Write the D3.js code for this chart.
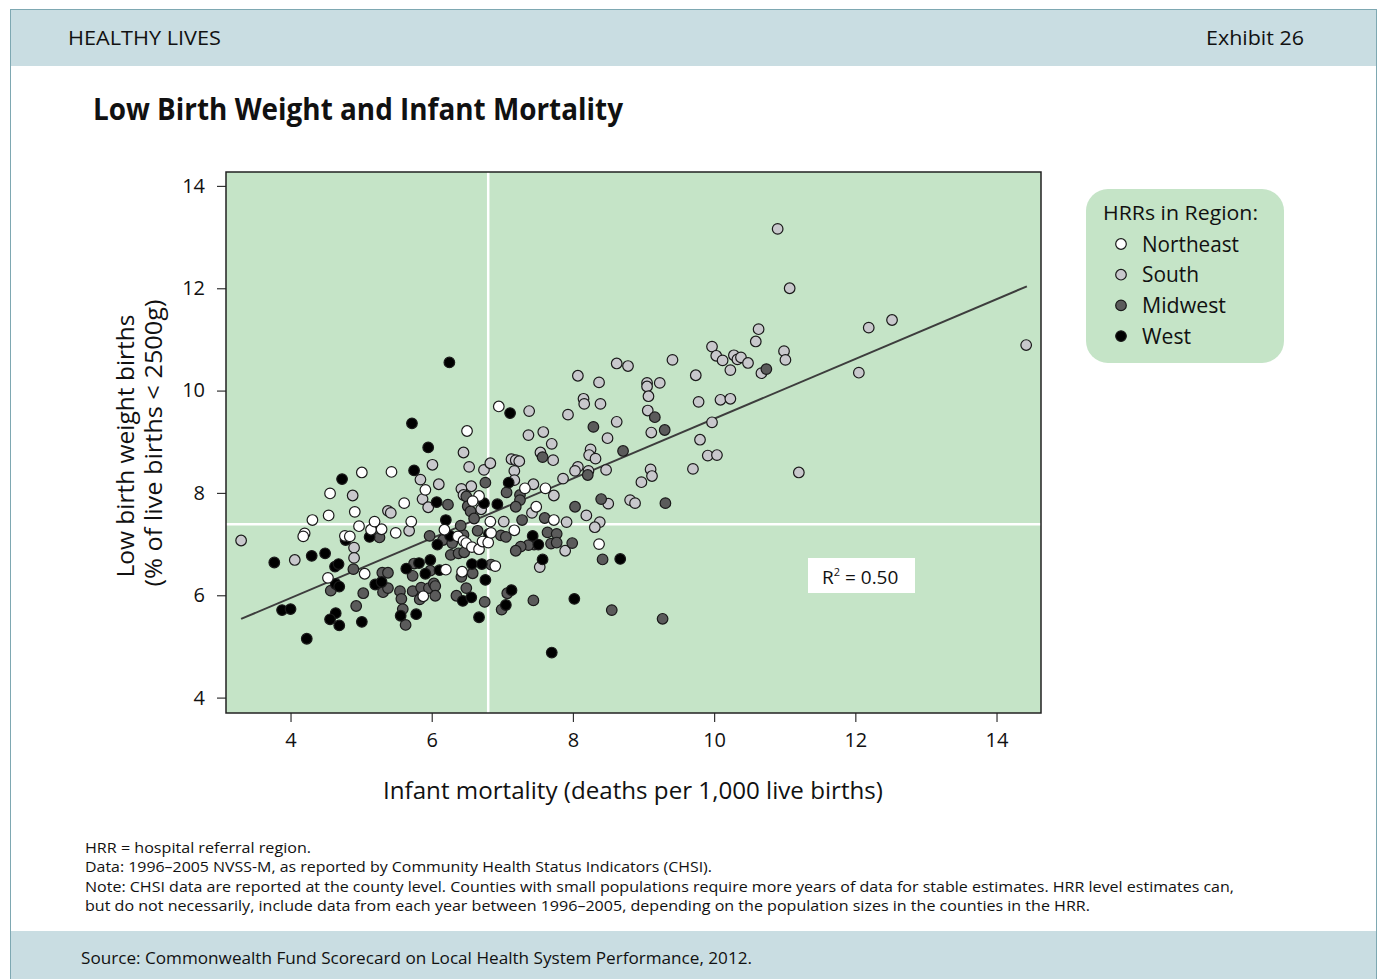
<!DOCTYPE html>
<html>
<head>
<meta charset="utf-8">
<script src="https://cdn.jsdelivr.net/npm/d3@7"></script>
<style>
body{ margin:0; background:#fff; }
svg text{ font-family:"Open Sans","Noto Sans",sans-serif; fill:#111; }
</style>
</head>
<body>
<svg id="chart" width="1379" height="979"></svg>
<script>
// infant mortality (x) vs low birth weight (y), one pair per HRR
var northeast = [
	[4.20,7.21],[4.18,7.15],[4.31,7.47],[4.54,7.56],[4.56,7.99],[4.53,6.34],[4.77,7.16],[4.84,7.15],[4.91,7.63],[4.97,7.35],
	[5.01,8.40],[5.05,6.42],[5.14,7.28],[5.29,7.29],[5.19,7.44],[5.43,8.41],[5.49,7.22],[5.61,7.80],[5.71,7.44],[5.88,5.98],
	[5.91,8.06],[6.20,6.50],[6.18,7.28],[6.37,7.15],[6.43,6.46],[6.45,7.06],[6.50,9.21],[6.49,7.02],[6.57,6.94],[6.67,6.90],
	[6.72,7.05],[6.80,7.03],[6.67,7.94],[6.58,7.84],[6.83,7.44],[6.84,7.22],[6.90,6.57],[6.95,9.69],[7.17,7.27],[7.32,8.09],
	[7.48,7.73],[7.61,8.09],[7.73,7.47],[8.37,7.00]
];
var south = [
	[3.30,7.07],[4.06,6.69],[4.88,7.95],[5.38,7.65],[5.42,7.61],[4.90,6.93],[4.90,6.73],[5.68,7.26],[5.84,8.26],[5.87,7.88],
	[5.95,7.72],[6.01,8.55],[6.10,8.17],[6.45,8.79],[6.53,8.51],[6.74,8.45],[6.83,8.58],[6.56,8.13],[6.42,8.08],[6.45,7.96],
	[6.70,7.68],[7.02,7.44],[7.13,8.66],[7.19,8.64],[7.24,8.62],[7.17,8.43],[7.17,8.25],[7.38,9.60],[7.37,9.13],[7.44,8.17],
	[7.42,7.61],[7.54,8.79],[7.58,9.19],[7.70,8.96],[7.72,8.64],[7.86,8.28],[7.73,7.95],[7.91,7.43],[7.89,6.87],[7.53,6.55],
	[7.93,9.53],[8.07,10.29],[8.15,9.84],[8.16,9.74],[8.39,9.74],[8.37,10.16],[8.62,10.53],[8.78,10.48],[8.62,9.39],[8.49,9.07],
	[8.25,8.85],[8.23,8.74],[8.32,8.67],[8.07,8.51],[8.03,8.43],[8.22,8.43],[8.47,8.45],[8.50,7.79],[8.81,7.86],[8.88,7.80],
	[8.19,7.56],[8.38,7.43],[8.31,7.33],[9.05,10.15],[9.05,10.08],[9.23,10.15],[9.07,9.89],[9.06,9.61],[9.11,9.18],[9.10,8.46],
	[9.12,8.33],[8.97,8.21],[9.41,10.60],[9.74,10.30],[9.78,9.78],[10.09,9.82],[10.23,9.84],[9.97,9.38],[9.80,9.04],[9.91,8.73],
	[10.04,8.74],[9.70,8.47],[9.97,10.86],[10.03,10.68],[10.12,10.59],[10.28,10.69],[10.33,10.61],[10.38,10.65],[10.48,10.54],[10.23,10.40],
	[10.67,10.34],[10.59,10.96],[10.63,11.20],[10.99,10.77],[11.01,10.60],[10.90,13.16],[11.07,12.00],[11.20,8.40],[12.05,10.35],[12.19,11.23],
	[12.52,11.38],[14.42,10.89]
];
var midwest = [
	[4.57,6.09],[5.03,6.04],[4.89,6.51],[4.93,5.79],[5.26,7.13],[5.30,6.44],[5.38,6.44],[5.31,6.06],[5.38,6.14],[5.55,6.08],
	[5.57,5.93],[5.59,5.73],[5.63,5.42],[5.73,6.38],[5.75,6.62],[5.73,6.08],[5.83,5.92],[5.85,6.15],[5.96,6.14],[6.03,6.23],
	[6.05,6.18],[6.05,5.99],[5.98,6.48],[6.23,7.77],[5.97,7.16],[6.16,7.08],[6.29,7.02],[6.27,6.79],[6.38,6.82],[6.45,7.18],
	[6.41,7.36],[6.49,7.93],[6.51,7.74],[6.55,7.64],[6.60,7.50],[6.65,7.26],[6.76,8.20],[6.46,6.84],[6.35,5.99],[6.49,6.14],
	[6.58,6.43],[6.42,6.36],[6.75,5.87],[7.06,8.01],[7.25,7.96],[7.25,7.86],[7.19,7.73],[7.60,7.51],[7.28,7.47],[6.98,7.17],
	[7.05,7.14],[7.64,7.23],[7.77,7.20],[7.69,7.01],[7.77,7.03],[7.45,6.99],[7.37,6.98],[7.26,6.95],[7.19,6.87],[7.99,7.02],
	[7.57,8.70],[7.07,6.04],[6.99,5.72],[7.44,5.90],[8.42,6.70],[8.55,5.71],[9.27,5.54],[8.03,7.73],[8.21,8.35],[8.40,7.88],
	[8.29,9.29],[8.71,8.82],[9.16,9.48],[9.30,9.23],[9.31,7.80],[10.74,10.42],[6.84,6.60]
];
var west = [
	[3.77,6.64],[4.30,6.77],[4.49,6.82],[4.63,6.56],[4.68,6.61],[4.73,8.27],[4.78,7.08],[5.12,7.14],[4.64,6.22],[4.69,6.17],
	[5.20,6.21],[5.29,6.26],[3.88,5.71],[4.00,5.73],[4.64,5.65],[4.56,5.53],[4.69,5.41],[5.01,5.48],[4.23,5.15],[5.56,5.60],
	[5.78,5.63],[5.64,6.52],[5.91,6.42],[5.98,6.69],[5.82,6.63],[5.72,9.36],[5.95,8.89],[5.75,8.44],[6.07,7.82],[6.20,7.47],
	[6.08,6.99],[6.26,7.16],[6.11,6.49],[6.57,6.61],[6.71,6.61],[6.76,6.30],[6.44,5.89],[6.56,5.96],[6.67,5.57],[6.74,7.80],
	[6.93,7.78],[6.81,7.20],[7.11,9.56],[7.09,8.20],[7.43,7.16],[7.51,6.99],[7.57,6.70],[7.13,6.10],[7.05,5.81],[8.02,5.93],
	[8.67,6.71],[7.70,4.88],[6.25,10.55]
];

var regionNames  = ["Northeast", "South", "Midwest", "West"];
var regionColors = ["#ffffff", "#c8c8cc", "#5b5b5b", "#000000"];
var xTicks = [4, 6, 8, 10, 12, 14];
var yTicks = [4, 6, 8, 10, 12, 14];

// white guide lines and least squares fit
var guideX = 6.80, guideY = 7.39;
var fitSlope = 0.584, fitIntercept = 3.61, fitFrom = 3.30, fitTo = 14.43;
var rSquared = "0.50";

var svg = d3.select("#chart");

// fixes a text to the width it has in the reference
function fitWidth( sel, w ){
	sel.attr("textLength", w).attr("lengthAdjust", "spacingAndGlyphs");
	return sel;
}

// page frame, header and footer bands
svg.append("rect").attr("x", 10).attr("y", 10).attr("width", 1367).attr("height", 56).attr("fill", "#c9dde2");
svg.append("rect").attr("x", 10).attr("y", 931).attr("width", 1367).attr("height", 48).attr("fill", "#c9dde2");
svg.append("rect").attr("x", 10.5).attr("y", 9.5).attr("width", 1366).attr("height", 980)
	.attr("fill", "none").attr("stroke", "#7ea8b2").attr("stroke-width", 1);

fitWidth( svg.append("text").attr("x", 68).attr("y", 45).style("font-size", "20px").text("HEALTHY LIVES"), 153 );
fitWidth( svg.append("text").attr("x", 1206).attr("y", 45).style("font-size", "20px").text("Exhibit 26"), 98 );
fitWidth( svg.append("text").attr("x", 93).attr("y", 120).style("font-size", "30px").style("font-weight", "bold")
	.text("Low Birth Weight and Infant Mortality"), 530 );

// plot area
var plotLeft = 226, plotRight = 1041, plotTop = 172, plotBottom = 713;
var x = d3.scaleLinear().domain([3.086, 14.63]).range([plotLeft, plotRight]);
var y = d3.scaleLinear().domain([3.699, 14.272]).range([plotBottom, plotTop]);

svg.append("rect").attr("x", plotLeft).attr("y", plotTop)
	.attr("width", plotRight - plotLeft).attr("height", plotBottom - plotTop)
	.attr("fill", "#c5e4c7");

svg.append("line").attr("x1", x(guideX)).attr("x2", x(guideX)).attr("y1", plotTop).attr("y2", plotBottom)
	.attr("stroke", "#fff").attr("stroke-width", 2.5);
svg.append("line").attr("x1", plotLeft).attr("x2", plotRight).attr("y1", y(guideY)).attr("y2", y(guideY))
	.attr("stroke", "#fff").attr("stroke-width", 2.5);

var xAxis = svg.append("g").attr("transform", "translate(0," + plotBottom + ")")
	.call( d3.axisBottom(x).tickValues(xTicks).tickSize(9).tickPadding(11) );
var yAxis = svg.append("g").attr("transform", "translate(" + plotLeft + ",0)")
	.call( d3.axisLeft(y).tickValues(yTicks).tickSize(9).tickPadding(12) );
[xAxis, yAxis].forEach(function( g ){
	g.select(".domain").remove();
	g.selectAll(".tick line").attr("stroke", "#333").attr("stroke-width", 1.2);
	g.selectAll(".tick text").style("font-size", "20px").style("font-family", "'Open Sans','Noto Sans',sans-serif").attr("fill", "#111");
});

// regression line
svg.append("line")
	.attr("x1", x(fitFrom)).attr("y1", y(fitIntercept + fitSlope * fitFrom))
	.attr("x2", x(fitTo)).attr("y2", y(fitIntercept + fitSlope * fitTo))
	.attr("stroke", "#3d3d3d").attr("stroke-width", 2);

// points, drawn south first so the darker and white ones sit on top
var groups = [ [south, 1], [midwest, 2], [west, 3], [northeast, 0] ];
groups.forEach(function( g ){
	svg.append("g").selectAll("circle").data(g[0]).enter().append("circle")
		.attr("cx", function(d){ return x(d[0]); })
		.attr("cy", function(d){ return y(d[1]); })
		.attr("r", 5.3)
		.attr("fill", regionColors[g[1]])
		.attr("stroke", "#1a1a1a")
		.attr("stroke-width", 1.2);
});

svg.append("rect").attr("x", plotLeft).attr("y", plotTop)
	.attr("width", plotRight - plotLeft).attr("height", plotBottom - plotTop)
	.attr("fill", "none").attr("stroke", "#222").attr("stroke-width", 1.5);

// R squared label
svg.append("rect").attr("x", 808).attr("y", 558).attr("width", 107).attr("height", 35).attr("fill", "#fff");
var r2 = svg.append("text").attr("x", 822).attr("y", 584).style("font-size", "19px");
r2.append("tspan").text("R");
r2.append("tspan").attr("dy", -8).style("font-size", "11px").text("2");
r2.append("tspan").attr("dy", 8).text(" = " + rSquared);

// axis titles
fitWidth( svg.append("text").attr("x", 633).attr("y", 799).attr("text-anchor", "middle").style("font-size", "23px")
	.text("Infant mortality (deaths per 1,000 live births)"), 500 );
fitWidth( svg.append("text").attr("transform", "translate(134,446) rotate(-90)").attr("text-anchor", "middle")
	.style("font-size", "23px").text("Low birth weight births"), 263 );
fitWidth( svg.append("text").attr("transform", "translate(162,443) rotate(-90)").attr("text-anchor", "middle")
	.style("font-size", "23px").text("(% of live births < 2500g)"), 287 );

// legend
svg.append("rect").attr("x", 1086).attr("y", 189).attr("width", 198).attr("height", 174).attr("rx", 22)
	.attr("fill", "#c5e4c7");
fitWidth( svg.append("text").attr("x", 1103).attr("y", 220).style("font-size", "20px").text("HRRs in Region:"), 155 );
var legendWidths = [97, 57, 84, 49];
var legend = svg.append("g").selectAll("g").data(regionNames).enter().append("g")
	.attr("transform", function(d, i){ return "translate(1121," + (244 + i * 30.7) + ")"; });
legend.append("circle").attr("r", 5.3)
	.attr("fill", function(d, i){ return regionColors[i]; })
	.attr("stroke", "#1a1a1a").attr("stroke-width", 1.2);
legend.append("text").attr("x", 21).attr("y", 7.5).style("font-size", "21px")
	.text(function(d){ return d; })
	.each(function(d, i){ fitWidth( d3.select(this), legendWidths[i] ); });

// notes and source
var notes = [
	["HRR = hospital referral region.", 226],
	["Data: 1996\u20132005 NVSS-M, as reported by Community Health Status Indicators (CHSI).", 627],
	["Note: CHSI data are reported at the county level. Counties with small populations require more years of data for stable estimates. HRR level estimates can,", 1149],
	["but do not necessarily, include data from each year between 1996\u20132005, depending on the population sizes in the counties in the HRR.", 1005]
];
notes.forEach(function( n, i ){
	fitWidth( svg.append("text").attr("x", 85).attr("y", 853 + i * 19.3).style("font-size", "15px").text(n[0]), n[1] );
});
fitWidth( svg.append("text").attr("x", 81).attr("y", 964).style("font-size", "17px").attr("fill", "#222")
	.text("Source: Commonwealth Fund Scorecard on Local Health System Performance, 2012."), 671 );
</script>
</body>
</html>
